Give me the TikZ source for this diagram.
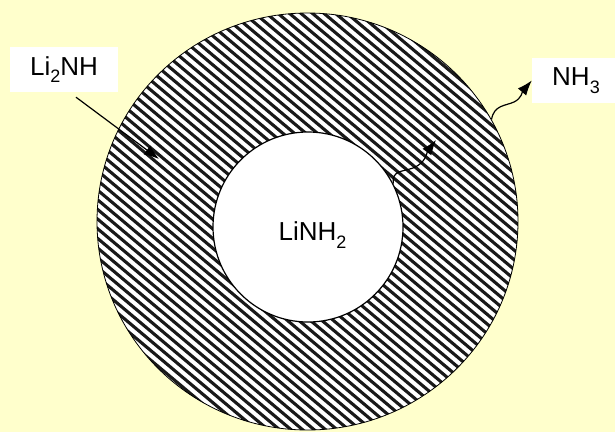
\documentclass[tikz,border=0pt]{standalone}
\usepackage{fontspec}
\setmainfont{Liberation Sans}
\usetikzlibrary{arrows.meta,shapes.geometric}
\definecolor{paper}{RGB}{255,255,204}
\definecolor{stripe}{RGB}{25,25,25}
\newcommand{\chemsub}[1]{\raisebox{-0.3em}{\fontsize{18}{20}\selectfont #1}}

\begin{document}
\begin{tikzpicture}[x=1pt, y=-1pt,
    tag/.style={fill=white, inner sep=0pt, font=\fontsize{26}{30}\selectfont},
    flow/.style={line width=1.2pt, -{Latex[length=15pt, width=11pt]}}]
    \fill[paper] (0,0) rectangle (615,432);
    \useasboundingbox (0,0) rectangle (615,432);

    % product shell with hatching
    \node[ellipse, draw, line width=0.8pt, fill=white, inner sep=0pt,
          minimum width=421pt, minimum height=417pt,
          path picture={
            \foreach \k in {-42,...,42}
              \draw[stripe, line width=3.1pt] ([xshift=\k*11.5pt]path picture bounding box.center) ++(140:420pt) -- ++(-40:840pt);
          }] (shell) at (307.5,221.5) {};
    % unreacted core
    \node[circle, draw, line width=1.2pt, fill=white, inner sep=0pt, minimum size=190pt] (core) at (308,227) {};
    \node[tag, fill=none] (core text) at (312.5,235) {LiNH\chemsub{2}};

    \node[tag, minimum width=108pt, minimum height=45pt] (li2nh) at (64,69.5) {Li\chemsub{2}NH};
    \node[tag, minimum width=88pt, minimum height=45pt] (nh3) at (576,80.5) {NH\chemsub{3}};

    \coordinate (inlet) at (159,159);
    \coordinate (gas) at (436,140);

    \draw[flow] ([shift={(12,5)}]li2nh.south) -- (inlet);
    \draw[flow] (core.27) .. controls (392,170) and (402,172) .. (413,168)
                          .. controls (426,163) and (427,152) .. (gas);
    \draw[flow] (shell.29) .. controls (494,105) and (505,106) .. (514,102)
                           .. controls (522,98) and (522,92) .. (nh3.west);
\end{tikzpicture}
\end{document}
